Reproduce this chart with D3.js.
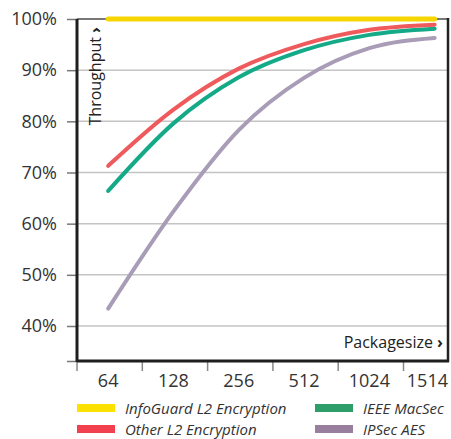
<!DOCTYPE html>
<html><head><meta charset="utf-8">
<script src="https://cdn.jsdelivr.net/npm/d3@7"></script>
<style>
html,body{margin:0;padding:0;background:#fff;}
svg{display:block;font-family:"Open Sans",sans-serif;}
</style></head><body>
<svg id="c" width="451" height="439"></svg>
<script>
const categories = ["64","128","256","512","1024","1514"];
const infoGuard = [100,100,100,100,100,100];
const otherL2 = [71.3,82.3,90.3,95.1,97.9,98.9];
const macSec = [66.4,79.6,88.6,93.9,96.9,98.1];
const ipsec = [43.4,62.4,78.3,88.5,94.3,96.3];
const yTicks = [40,50,60,70,80,90,100];
const seriesNames = ["InfoGuard L2 Encryption","Other L2 Encryption","IEEE MacSec","IPSec AES"];

const series = [
  {name: seriesNames[0], values: infoGuard, color: "#f6d500", legend: "#fbe100", w: 5},
  {name: seriesNames[1], values: otherL2, color: "#ef5a5c", legend: "#f2404e", w: 4},
  {name: seriesNames[2], values: macSec, color: "#14a987", legend: "#2e9e6a", w: 4},
  {name: seriesNames[3], values: ipsec, color: "#a89cb7", legend: "#997f9e", w: 4}
];

const L = 77, R = 448, T = 19, B = 361;
const svg = d3.select("#c");
const step = 65.3;
const x = d3.scalePoint().domain(categories).range([L + step/2 - 1.5, L + step/2 - 1.5 + step*5]);
const y = d3.scaleLinear().domain([40,100]).range([326, T]);

// gridlines
svg.append("g").selectAll("line").data(yTicks).join("line")
  .attr("x1", L).attr("x2", R).attr("y1", d=>y(d)).attr("y2", d=>y(d))
  .attr("stroke", "#c4c4c4").attr("stroke-width", 1.5);

// y axis ticks & labels
const ya = svg.append("g").attr("transform", `translate(${L},0)`)
  .call(d3.axisLeft(y).tickValues(yTicks.concat([y.invert(B)])).tickSize(10).tickPadding(10)
    .tickFormat(d => yTicks.includes(d) ? d + "%" : ""));
ya.select(".domain").remove();
ya.selectAll(".tick line").attr("stroke", "#777").attr("stroke-width", 1.5);
ya.selectAll(".tick text").attr("font-size", 18).attr("fill", "#333").attr("font-family", "Open Sans");

// x axis ticks (band boundaries)
const xa = svg.append("g").attr("transform", `translate(0,${B})`);
xa.selectAll("line").data(categories).join("line")
  .attr("x1", d=>x(d)-step/2+1.5).attr("x2", d=>x(d)-step/2+1.5)
  .attr("y1", 0).attr("y2", 10).attr("stroke", "#888").attr("stroke-width", 1.5);
xa.selectAll("text").data(categories).join("text")
  .attr("x", (d,i) => i === categories.length-1 ? R : x(d))
  .attr("text-anchor", (d,i) => i === categories.length-1 ? "end" : "middle")
  .attr("y", 26).attr("font-size", 18).attr("fill", "#333").text(d=>d);

// frame
svg.append("line").attr("x1", L).attr("x2", R).attr("y1", T).attr("y2", T)
  .attr("stroke", "#777").attr("stroke-width", 2);
svg.append("line").attr("x1", R).attr("x2", R).attr("y1", T-1).attr("y2", B+1)
  .attr("stroke", "#222").attr("stroke-width", 2.5);
svg.append("line").attr("x1", L).attr("x2", R+1).attr("y1", B).attr("y2", B)
  .attr("stroke", "#1e1e1e").attr("stroke-width", 3);
svg.append("line").attr("x1", L).attr("x2", L).attr("y1", T).attr("y2", B+1)
  .attr("stroke", "#1e1e1e").attr("stroke-width", 3);

// lines
const line = d3.line().x((d,i)=>x(categories[i])).y(d=>y(d)).curve(d3.curveMonotoneX);
svg.append("g").selectAll("path").data(series.slice().reverse()).join("path")
  .attr("d", d=>line(d.values)).attr("fill", "none")
  .attr("stroke", d=>d.color).attr("stroke-width", d=>d.w)
  .attr("stroke-linecap", "round").attr("stroke-linejoin", "round");

// axis titles
const tt = svg.append("text").attr("transform", `translate(101,27) rotate(-90)`)
  .attr("text-anchor", "end").attr("font-size", 16).attr("fill", "#222");
tt.append("tspan").text("Throughput ");
tt.append("tspan").attr("font-weight", "bold").text("›");
const xt = svg.append("text").attr("x", 443).attr("y", 348)
  .attr("text-anchor", "end").attr("font-size", 16).attr("fill", "#222");
xt.append("tspan").text("Packagesize ");
xt.append("tspan").attr("font-weight", "bold").text("›");

// legend
const lpos = [[77,408],[77,429],[315,408],[315,429]];
const lg = svg.append("g").selectAll("g").data(series).join("g")
  .attr("transform", (d,i)=>`translate(${lpos[i][0]},${lpos[i][1]})`);
lg.append("rect").attr("x", 0).attr("y", -4).attr("width", 38).attr("height", 8).attr("fill", d=>d.legend);
lg.append("text").attr("x", 48).attr("y", 5.5).attr("font-size", 15).attr("font-style", "italic")
  .attr("fill", "#333").text(d=>d.name);
</script>
</body></html>
